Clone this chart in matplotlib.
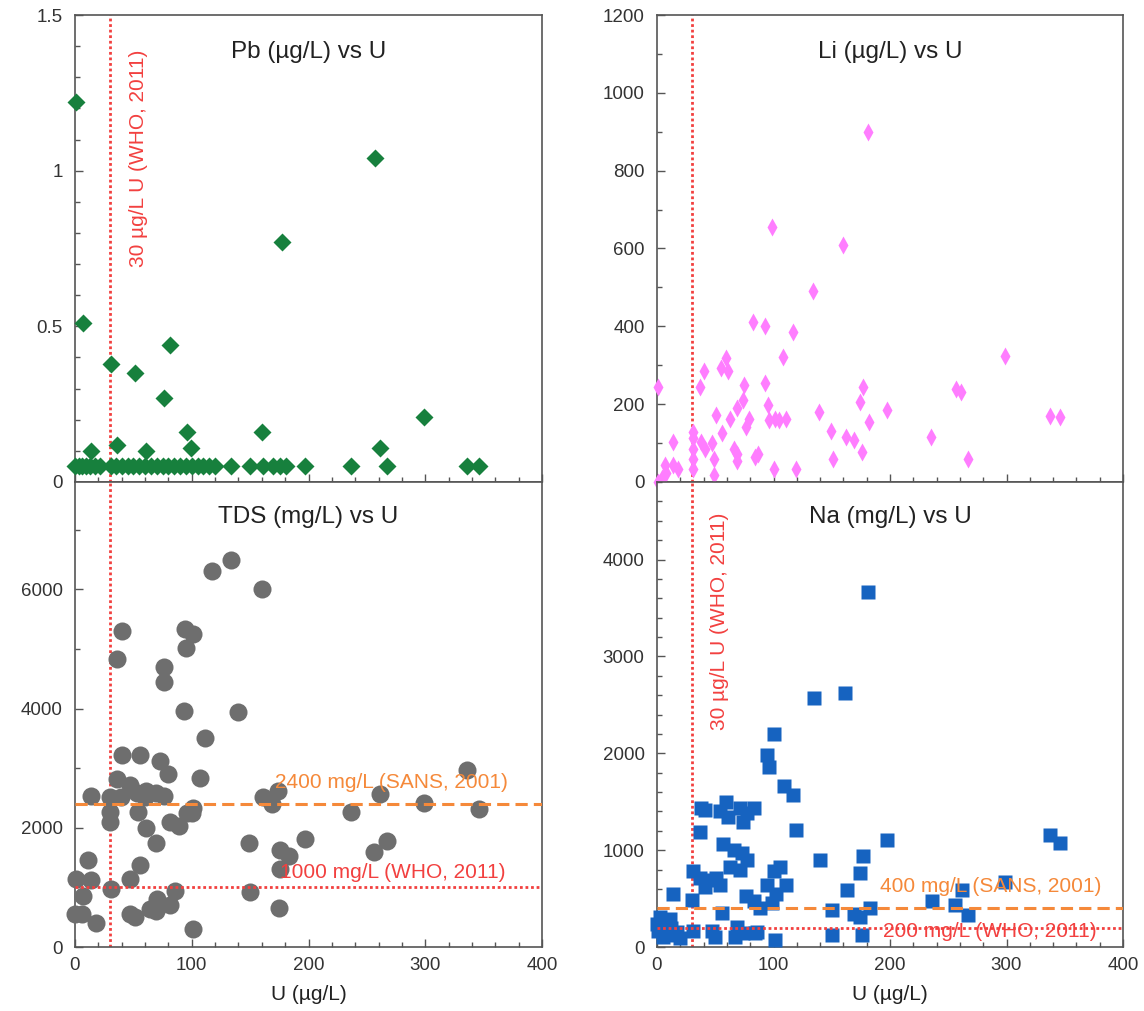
import matplotlib
matplotlib.use("Agg")
import matplotlib.pyplot as plt
from matplotlib.ticker import MultipleLocator, FixedLocator

plt.rcParams['font.family'] = ['Liberation Sans', 'DejaVu Sans']

# ---------------- data ----------------
pb_u = [1, 257, 177, 7, 81, 31, 51, 76, 299, 96, 160, 36, 99, 14, 61, 261,
        0, 3, 6, 9, 13, 17, 21, 31, 35, 40, 45, 50, 55, 60, 65, 70, 75, 80, 85,
        90, 95, 100, 105, 110, 115, 120, 134, 150, 161, 170, 176, 181, 197, 236,
        267, 336, 346]
pb_val = [1.22, 1.04, 0.77, 0.51, 0.44, 0.38, 0.35, 0.27, 0.21, 0.16, 0.16, 0.12,
          0.11, 0.10, 0.10, 0.11,
          0.05, 0.05, 0.05, 0.05, 0.05, 0.05, 0.05, 0.05, 0.05, 0.05, 0.05, 0.05,
          0.05, 0.05, 0.05, 0.05, 0.05, 0.05, 0.05, 0.05, 0.05, 0.05, 0.05, 0.05,
          0.05, 0.05, 0.05, 0.05, 0.05, 0.05, 0.05, 0.05, 0.05, 0.05, 0.05, 0.05,
          0.05]

li_u = [181, 99, 160, 134, 82, 93, 117, 299, 108, 59, 55, 61, 40, 93, 75,
        37, 1, 177, 257, 261, 74, 95, 174, 69, 197, 139, 51, 337, 346, 79,
        63, 96, 101, 105, 111, 182, 76, 56, 31, 149, 235, 162, 169, 38, 14,
        47, 41, 66, 69, 31, 176, 84, 87, 49, 151, 267, 69, 18, 14, 7,
        49, 100, 119, 31, 31, 8, 4, 1, 31]
li_val = [900, 655, 610, 490, 410, 400, 385, 323, 322, 318, 292, 284, 286, 254, 249,
          245, 245, 245, 238, 232, 211, 198, 206, 189, 185, 179, 172, 169, 167, 163,
          163, 159, 163, 159, 163, 153, 142, 127, 129, 132, 116, 116, 108, 103, 103,
          99, 86, 86, 73, 86, 77, 65, 73, 60, 60, 60, 53, 34, 43, 43,
          19, 34, 34, 34, 60, 22, 9, 0, 112]

tds_u = [134, 117, 160, 40, 94, 101, 95, 36, 76, 76, 93, 140, 111, 40, 56,
         73, 80, 336, 36, 107, 47, 14, 30, 39, 53, 61, 69, 76, 60, 174,
         161, 169, 261, 299, 346, 101, 100, 236, 54, 30, 30, 81, 89, 96, 61,
         69, 149, 197, 267, 256, 176, 183, 11, 56, 176, 1, 14, 47, 31, 7,
         86, 150, 70, 64, 69, 81, 175, 0, 6, 47, 51, 18, 101]
tds_val = [6490, 6310, 6010, 5300, 5330, 5250, 5010, 4830, 4690, 4450, 3960, 3950, 3500, 3220, 3220,
           3120, 2910, 2970, 2820, 2830, 2720, 2540, 2510, 2510, 2590, 2620, 2590, 2540, 2510, 2620,
           2510, 2400, 2560, 2420, 2320, 2340, 2240, 2270, 2270, 2260, 2090, 2090, 2030, 2250, 1990,
           1750, 1740, 1810, 1770, 1600, 1620, 1530, 1460, 1380, 1310, 1140, 1120, 1140, 980, 860,
           940, 930, 800, 640, 610, 710, 650, 550, 550, 550, 500, 400, 310]

na_u = [181, 161, 135, 100, 94, 96, 109, 117, 38, 41, 59, 54, 61, 71, 77,
        83, 74, 37, 119, 337, 346, 197, 57, 66, 73, 77, 63, 71, 140, 177,
        174, 31, 106, 100, 37, 44, 51, 54, 41, 94, 111, 102, 14, 163, 299,
        262, 76, 30, 83, 88, 99, 236, 256, 267, 150, 169, 183, 174, 56, 3,
        11, 7, 1, 14, 31, 47, 50, 69, 67, 74, 84, 86, 101, 150, 176,
        20, 0, 5, 12, 17]
na_val = [3660, 2620, 2570, 2200, 1980, 1860, 1660, 1570, 1440, 1410, 1500, 1400, 1345, 1430, 1380,
          1430, 1290, 1190, 1210, 1155, 1070, 1100, 1060, 1000, 970, 900, 830, 790, 900, 940,
          760, 780, 830, 780, 710, 690, 710, 640, 620, 640, 640, 550, 550, 590, 670,
          590, 530, 490, 470, 400, 450, 480, 430, 330, 380, 345, 400, 310, 350, 310,
          290, 220, 170, 120, 170, 170, 100, 210, 100, 140, 140, 155, 70, 120, 120,
          90, 240, 100, 200, 160]

titles = ["Pb (µg/L) vs U", "Li (µg/L) vs U", "TDS (mg/L) vs U", "Na (mg/L) vs U"]
u_limit = 30
tds_limits = [2400, 1000]
na_limits = [400, 200]

RED = '#f2403f'
ORANGE = '#f5893a'
TXT = '#222222'
SPINE = '#555555'

W, H = 1144, 1011
fig = plt.figure(figsize=(W / 100, H / 100), dpi=100)

def frac_rect(x0, y0, x1, y1):
    return [x0 / W, 1 - y1 / H, (x1 - x0) / W, (y1 - y0) / H]

ax_pb = fig.add_axes(frac_rect(75, 15, 542, 482))
ax_li = fig.add_axes(frac_rect(657, 15, 1123, 482))
ax_tds = fig.add_axes(frac_rect(75, 482, 542, 947))
ax_na = fig.add_axes(frac_rect(657, 482, 1123, 947))

def style(ax, ymax, ymaj, ymin, ylabels, show_x):
    ax.set_xlim(0, 400)
    ax.set_ylim(0, ymax)
    ax.xaxis.set_major_locator(MultipleLocator(100))
    ax.xaxis.set_minor_locator(MultipleLocator(20))
    ax.yaxis.set_major_locator(FixedLocator(ymaj))
    ax.set_yticklabels(ylabels)
    ax.yaxis.set_minor_locator(MultipleLocator(ymin))
    ax.tick_params(which='both', direction='in', top=False, right=False,
                   colors=SPINE, labelcolor='#333333', labelsize=13.5, width=1)
    ax.tick_params(which='major', length=6, pad=9)
    ax.tick_params(which='minor', length=3.5)
    ax.tick_params(axis='x', which='major', pad=7)
    if not show_x:
        ax.tick_params(axis='x', which='both', labelbottom=False)
    for s in ax.spines.values():
        s.set_color(SPINE)
        s.set_linewidth(1.2)
    ax.axvline(u_limit, color=RED, lw=2, ls=(0, (1, 1)), zorder=1)

style(ax_pb, 1.5, [0, 0.5, 1, 1.5], 0.1, ['0', '0.5', '1', '1.5'], False)
style(ax_li, 1200, [0, 200, 400, 600, 800, 1000, 1200], 100,
      ['0', '200', '400', '600', '800', '1000', '1200'], False)
style(ax_tds, 7800, [0, 2000, 4000, 6000], 1000, ['0', '2000', '4000', '6000'], True)
style(ax_na, 4800, [0, 1000, 2000, 3000, 4000], 200,
      ['0', '1000', '2000', '3000', '4000'], True)

ax_pb.plot(pb_u, pb_val, ls='none', marker='D', ms=9, color='#17803d',
           mec='none', clip_on=False, zorder=3)
ax_li.plot(li_u, li_val, ls='none', marker='d', ms=8.8, color='#ff7dff',
           mec='none', clip_on=False, zorder=3)
ax_tds.plot(tds_u, tds_val, ls='none', marker='o', ms=13, color='#6e6e6e',
            mec='none', clip_on=False, zorder=3)
ax_na.plot(na_u, na_val, ls='none', marker='s', ms=10, color='#1663c0',
           mec='none', clip_on=False, zorder=3)

# guideline lines
ax_tds.axhline(tds_limits[0], color=ORANGE, lw=2.2, ls=(0, (4, 2)), zorder=4)
ax_tds.axhline(tds_limits[1], color=RED, lw=2, ls=(0, (1, 1)), zorder=4)
ax_na.axhline(na_limits[0], color=ORANGE, lw=2.2, ls=(0, (4, 2)), zorder=4)
ax_na.axhline(na_limits[1], color=RED, lw=2, ls=(0, (1, 1)), zorder=4)

ax_tds.text(171, 2760, f"{tds_limits[0]} mg/L (SANS, 2001)", color=ORANGE,
            fontsize=15, ha='left', va='center', zorder=5)
ax_tds.text(176, 1251, f"{tds_limits[1]} mg/L (WHO, 2011)", color=RED,
            fontsize=15, ha='left', va='center', zorder=5)
ax_na.text(191, 621, f"{na_limits[0]} mg/L (SANS, 2001)", color=ORANGE,
           fontsize=15, ha='left', va='center', zorder=5)
ax_na.text(194, 155, f"{na_limits[1]} mg/L (WHO, 2011)", color=RED,
           fontsize=15, ha='left', va='center', zorder=5)

ax_pb.text(54, 1.39, "30 µg/L U (WHO, 2011)", color=RED, fontsize=15,
           rotation=90, ha='center', va='top', zorder=5)
ax_na.text(54, 4480, "30 µg/L U (WHO, 2011)", color=RED, fontsize=15,
           rotation=90, ha='center', va='top', zorder=5)

for ax, t, yf in zip([ax_pb, ax_li, ax_tds, ax_na], titles, [0.921, 0.921, 0.925, 0.925]):
    ax.text(0.5, yf, t, transform=ax.transAxes, ha='center', va='center',
            fontsize=17.5, color=TXT, zorder=6)

for ax in (ax_tds, ax_na):
    ax.set_xlabel("U (µg/L)", fontsize=15, color=TXT, labelpad=8)

fig.savefig("out.png", dpi=100)
